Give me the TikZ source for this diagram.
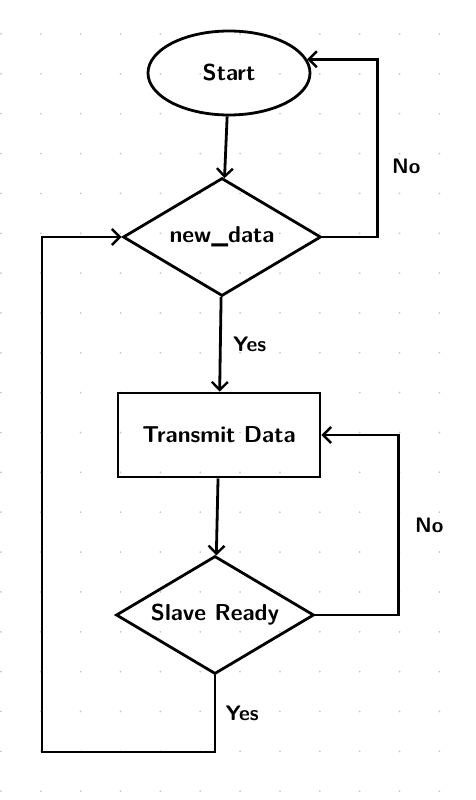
\documentclass[tikz,border=0pt]{standalone}
\usepackage{tikz}
\usetikzlibrary{shapes.geometric,arrows.meta}

\begin{document}
\begin{tikzpicture}[x=1pt,y=1pt,line width=2.8pt,-{Straight Barb[length=8pt,width=16pt,line width=2.4pt]}]
\tikzstyle{terminal}=[ellipse,draw,minimum width=162pt,minimum height=84pt,inner sep=0pt]
\tikzstyle{decision}=[diamond,draw,aspect=1.7,minimum width=198pt,minimum height=118pt,inner sep=0pt]
\tikzstyle{process}=[rectangle,draw,minimum width=202pt,minimum height=84pt,inner sep=0pt]
\tikzstyle{every node}=[font=\sffamily\bfseries\fontsize{23}{26}\selectfont]

\useasboundingbox (0,0) rectangle (476,-800);
% dotted paper
\foreach \i in {0,...,11}
  \foreach \j in {0,...,19}
    \fill[black!22] (1+39.85*\i,-34-39.85*\j) circle (1pt);

\node[terminal] (1) at (229,-73) {Start};
\node[decision] (2) [below of=1, node distance=164pt, xshift=-7pt] {new\_data};
\node[process] (3) [below of=2, node distance=198pt, xshift=-3pt] {Transmit Data};
\node[decision] (4) [below of=3, node distance=180pt, xshift=-4pt] {Slave Ready};
\coordinate (back) at (42,-752);

\path[every node/.style={font=\sffamily\bfseries\fontsize{21}{24}\selectfont}]
(1) edge (2)
(2) edge node [right=8pt] {Yes} (3)
(3) edge (4);

\draw[every node/.style={font=\sffamily\bfseries\fontsize{21}{24}\selectfont}]
  (2.east) -- ++(55,0) |- node [pos=0.2, right=10pt] {No} (1.10);
\draw[every node/.style={font=\sffamily\bfseries\fontsize{21}{24}\selectfont}]
  (4.east) -- ++(83,0) |- node [pos=0.25, right=12pt] {No} (3.east);
\draw[every node/.style={font=\sffamily\bfseries\fontsize{21}{24}\selectfont}]
  (4.south) |- node [pos=0.25, right=6pt] {Yes} (back) |- (2.west);

\end{tikzpicture}
\end{document}
